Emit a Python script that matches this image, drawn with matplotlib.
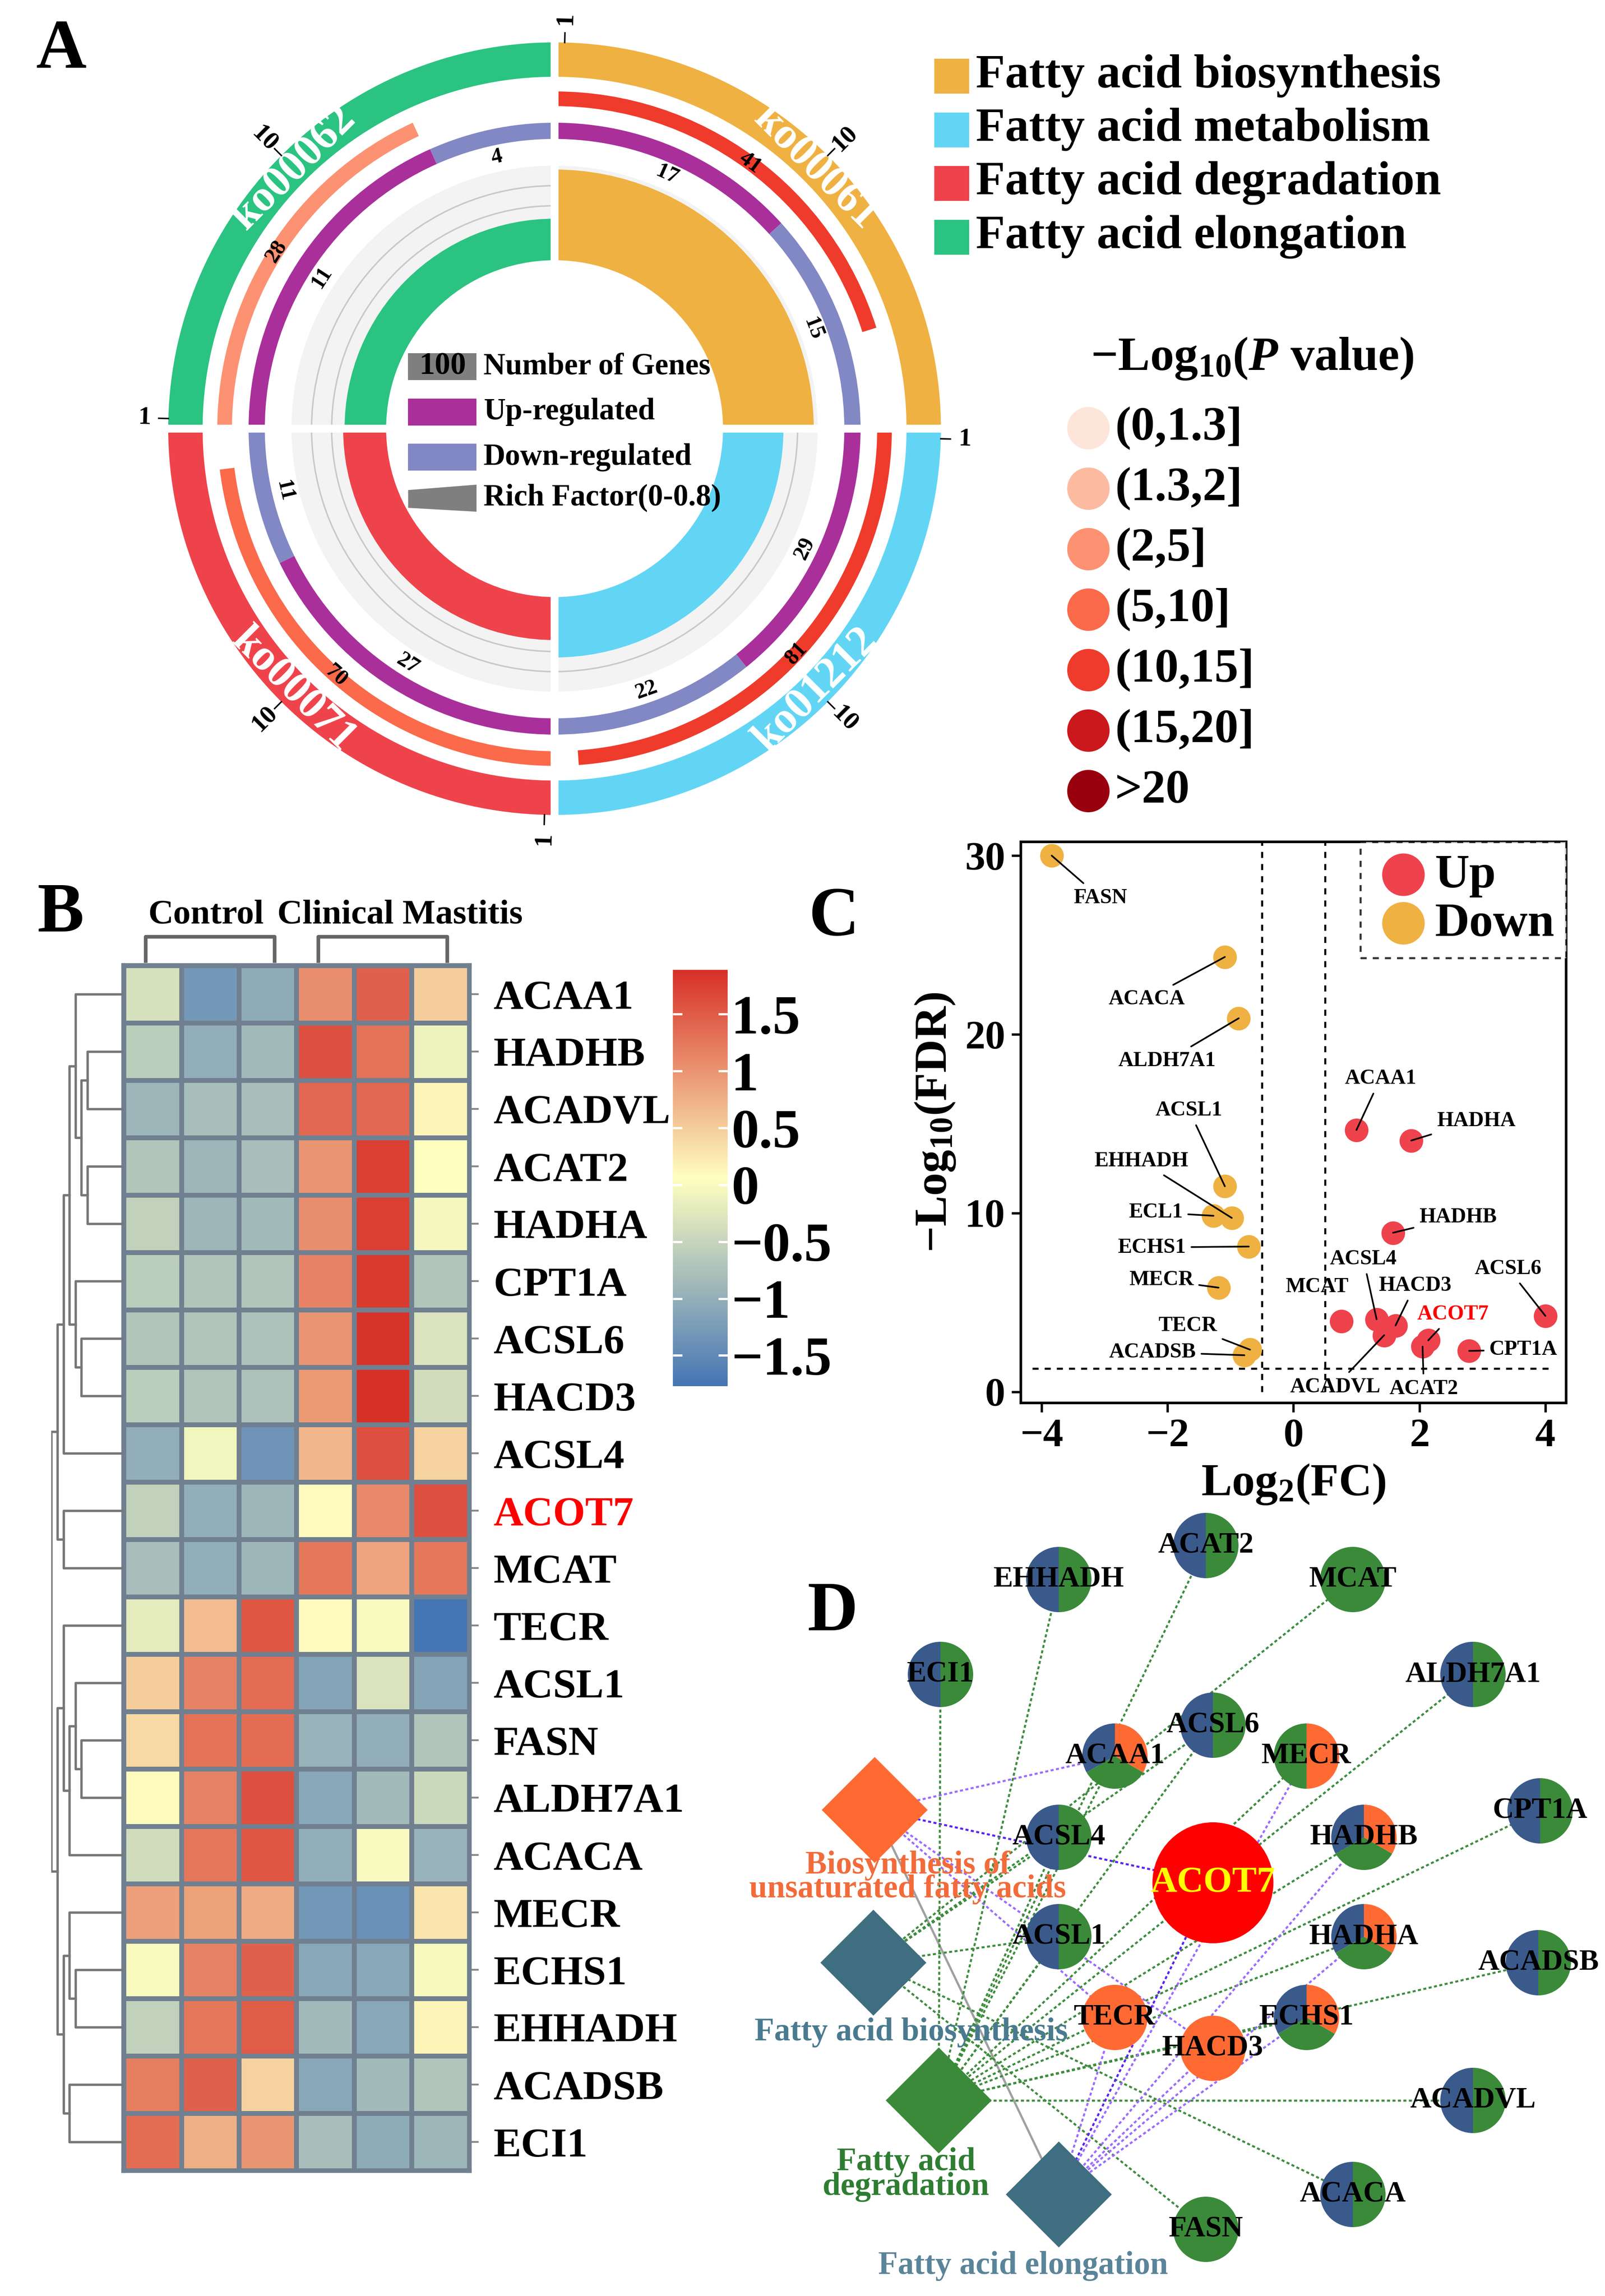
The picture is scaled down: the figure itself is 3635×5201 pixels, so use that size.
import numpy as np
import matplotlib
matplotlib.use("Agg")
import matplotlib.pyplot as plt
from matplotlib.patches import Wedge, Rectangle, Polygon, Circle, Arc
from matplotlib.colors import LinearSegmentedColormap, Normalize
from matplotlib.cm import ScalarMappable

plt.rcParams["font.family"] = ["Liberation Serif", "DejaVu Serif"]
plt.rcParams["font.weight"] = "bold"
plt.rcParams["mathtext.fontset"] = "custom"
plt.rcParams["mathtext.rm"] = "Liberation Serif:bold"
plt.rcParams["mathtext.bf"] = "Liberation Serif:bold"
plt.rcParams["mathtext.it"] = "Liberation Serif:italic:bold"
plt.rcParams["axes.unicode_minus"] = True

W, H = 3636, 5201

# ---------------- panel A data
ko_ids = ["ko00061", "ko00062", "ko00071", "ko01212"]
ko_colors = ["#EFB142", "#2BC381", "#EF434C", "#62D5F5"]
ko_start = [90, 180, 270, 0]          # each sector runs clockwise from here
bg_genes = [41, 28, 70, 81]
up_genes = [17, 11, 27, 29]
down_genes = [15, 4, 11, 22]
neglog_p = [12.0, 3.5, 7.5, 12.5]

legend_names = ["Fatty acid biosynthesis", "Fatty acid metabolism",
                "Fatty acid degradation", "Fatty acid elongation"]
legend_colors = ["#EFB142", "#62D5F5", "#EF434C", "#2BC381"]

p_edges = [1.3, 2, 5, 10, 15, 20]
p_labels = ["(0,1.3]", "(1.3,2]", "(2,5]", "(5,10]", "(10,15]", "(15,20]", ">20"]
p_colors = ["#FEE5D9", "#FCBBA1", "#FC9272", "#FB6A4A", "#EF3B2C", "#CB181D", "#99000D"]

UP_COL = "#A9309A"
DOWN_COL = "#8288C4"

# ---------------- panel B data
genes_b = ["ACAA1", "HADHB", "ACADVL", "ACAT2", "HADHA", "CPT1A", "ACSL6", "HACD3",
           "ACSL4", "ACOT7", "MCAT", "TECR", "ACSL1", "FASN", "ALDH7A1", "ACACA",
           "MECR", "ECHS1", "EHHADH", "ACADSB", "ECI1"]
groups_b = ["Control", "Clinical Mastitis"]
zscore = np.array([
    [-0.35, -1.30, -1.05, 1.05, 1.45, 0.50],
    [-0.60, -1.00, -0.85, 1.60, 1.30, -0.10],
    [-0.90, -0.80, -0.80, 1.40, 1.40, 0.15],
    [-0.70, -0.90, -0.80, 1.00, 1.75, 0.05],
    [-0.55, -0.90, -0.85, 1.05, 1.75, -0.05],
    [-0.60, -0.70, -0.70, 1.15, 1.80, -0.70],
    [-0.70, -0.70, -0.75, 1.00, 1.85, -0.30],
    [-0.60, -0.70, -0.75, 0.95, 1.89, -0.40],
    [-1.00, -0.08, -1.35, 0.70, 1.60, 0.45],
    [-0.55, -1.00, -0.90, 0.10, 1.10, 1.60],
    [-0.80, -1.00, -0.90, 1.25, 0.85, 1.25],
    [-0.20, 0.65, 1.55, 0.10, 0.00, -1.77],
    [0.50, 1.15, 1.35, -1.15, -0.30, -1.15],
    [0.40, 1.30, 1.35, -0.95, -1.00, -0.70],
    [0.10, 1.15, 1.60, -1.10, -0.85, -0.45],
    [-0.40, 1.25, 1.55, -1.00, 0.00, -0.95],
    [0.90, 0.88, 0.80, -1.30, -1.40, 0.30],
    [0.00, 1.15, 1.45, -1.10, -1.10, -0.02],
    [-0.55, 1.25, 1.50, -0.85, -1.10, 0.15],
    [1.20, 1.45, 0.45, -1.10, -0.85, -0.70],
    [1.35, 0.75, 1.00, -0.80, -1.05, -0.90],
])
z_min, z_max = -1.77, 1.89
cbar_ticks = [1.5, 1, 0.5, 0, -0.5, -1, -1.5]
cbar_ticklabels = ["1.5", "1", "0.5", "0", "\u22120.5", "\u22121", "\u22121.5"]
# row dendrogram: (child a, child b, height); new nodes numbered from 21
row_merges = [(1, 2, 82), (3, 4, 82), (21, 22, 96), (0, 23, 109), (6, 7, 96),
              (5, 25, 109), (24, 26, 123), (27, 8, 136), (9, 10, 136), (28, 29, 150),
              (13, 14, 96), (12, 31, 109), (15, 32, 123), (11, 33, 136), (17, 18, 109),
              (16, 35, 123), (19, 20, 123), (36, 37, 136), (34, 38, 150), (30, 39, 164)]

# ---------------- panel C data
genes_c = ["FASN", "ACACA", "ALDH7A1", "ACSL1", "EHHADH", "ECL1", "ECHS1", "MECR",
           "TECR", "ACADSB", "ACAA1", "HADHA", "HADHB", "MCAT", "ACSL4", "HACD3",
           "ACADVL", "ACOT7", "ACAT2", "CPT1A", "ACSL6"]
log2fc = [-3.84, -1.09, -0.87, -1.09, -0.98, -1.27, -0.71, -1.19, -0.69, -0.78,
          1.00, 1.87, 1.58, 0.76, 1.32, 1.62, 1.44, 2.14, 2.05, 2.79, 4.00]
neglog_fdr = [30.0, 24.33, 20.9, 11.5, 9.73, 9.85, 8.13, 5.83, 2.36, 2.05,
              14.65, 14.06, 8.9, 3.95, 4.06, 3.71, 3.17, 2.88, 2.53, 2.29, 4.25]
lab_x = [-3.07, -2.33, -2.01, -1.66, -2.42, -2.19, -2.25, -2.10, -1.68, -2.24,
         1.38, 2.90, 2.61, 0.37, 1.11, 1.93, 0.66, 2.53, 2.07, 3.65, 3.41]
lab_y = [27.64, 21.97, 18.52, 15.76, 12.92, 10.04, 8.08, 6.26, 3.71, 2.22,
         17.53, 15.17, 9.78, 5.88, 7.44, 5.95, 0.28, 4.35, 0.17, 2.36, 6.90]
no_line = ["MCAT"]

# ---------------- panel D data
gene_nodes = ["EHHADH", "ACAT2", "MCAT", "ECI1", "ALDH7A1", "ACSL6", "ACAA1", "MECR",
              "ACSL4", "HADHB", "CPT1A", "ACOT7", "ACSL1", "HADHA", "ACADSB", "TECR",
              "ECHS1", "HACD3", "ACADVL", "ACACA", "FASN"]
node_x = [2398, 2731, 3064, 2130, 3336, 2747, 2525, 2959, 2398, 3089, 3488, 2747,
          2398, 3089, 3484, 2525, 2959, 2747, 3336, 3064, 2731]
node_y = [1623, 1700, 1623, 1408, 1408, 1293, 1223, 1223, 1039, 1039, 1099, 936,
          814, 814, 755, 631, 631, 561, 443, 230, 151]
node_parts = ["bg", "bg", "g", "bg", "bg", "bg", "bgo", "go", "bg", "bgo", "bg", "r",
              "bg", "bgo", "bg", "o", "bgo", "o", "bg", "bg", "g"]
part_colors = {"b": "#3A5A8C", "g": "#3A8A3A", "o": "#FF6A33", "r": "#FF0000"}

pathways = ["Biosynthesis of\nunsaturated fatty acids", "Fatty acid biosynthesis",
            "Fatty acid\ndegradation", "Fatty acid elongation"]
path_x = [1981, 1978, 2126, 2398]
path_y = [1101, 755, 443, 230]
path_colors = ["#FF6A33", "#3F6E80", "#3A8A3A", "#3F6E80"]
path_text_colors = ["#F26B3A", "#4A7A8F", "#2E7D32", "#5A8499"]
path_lab_x = [2056, 2064, 2052, 2317]
path_lab_y = [948, 597, 275, 68]
path_genes = [
    ["ACAA1", "ACOT7", "TECR", "HACD3"],
    ["ACSL1", "ACSL4", "ACSL6", "MCAT", "ACACA", "FASN"],
    ["ECI1", "EHHADH", "ACAT2", "ACSL6", "ACAA1", "ACSL4", "ACSL1", "MECR", "HADHB",
     "CPT1A", "ALDH7A1", "HADHA", "ECHS1", "ACADSB", "ACADVL"],
    ["ACOT7", "TECR", "HACD3", "ECHS1", "HADHA", "HADHB", "MECR"],
]
path_edge_colors = ["#9B6BFF", "#3C8C3C", "#3C8C3C", "#9B6BFF"]


def upright(r):
    r = r % 360
    if 90 < r <= 270:
        r -= 180
    elif r > 270:
        r -= 360
    return r


def pol(r, a):
    return r * np.cos(np.radians(a)), r * np.sin(np.radians(a))


fig = plt.figure(figsize=(W / 300, H / 300), dpi=300)

# overlay in pixel coordinates for legends and panel letters
ov = fig.add_axes([0, 0, 1, 1])
ov.set_xlim(0, W)
ov.set_ylim(H, 0)
ov.axis("off")

for lab, (x, y) in zip("ABCD", [(139, 116), (137, 2072), (1888, 2080), (1885, 3655)]):
    ov.text(x, y, lab, fontsize=38, ha="center", va="center")

# legend of pathways
for i, (nm, c) in enumerate(zip(legend_names, legend_colors)):
    y = 172 + 121.5 * i
    ov.add_patch(Rectangle((2116, y - 39), 79, 79, fc=c, ec="none"))
    ov.text(2210, y, nm, fontsize=26, va="center", ha="left")

# p-value legend
ov.text(2470, 812, r"$\mathrm{-Log_{10}(}\mathit{P}\mathrm{\ value)}$", fontsize=26,
        va="center", ha="left")
for i, (lb, c) in enumerate(zip(p_labels, p_colors)):
    y = 970 + 137 * i
    ov.add_patch(Circle((2465, y), 48, fc=c, ec="none"))
    ov.text(2525, y, lb, fontsize=26, va="center", ha="left")

# ---------------- panel A
R_PX = 875
half = 960
axA = fig.add_axes([(1256 - half) / W, 1 - (971 + half) / H, 2 * half / W, 2 * half / H])
lim = half / R_PX
axA.set_xlim(-lim, lim)
axA.set_ylim(-lim, lim)
axA.axis("off")

r0, rf_scale = 0.265, 0.52
for i in range(4):
    s = ko_start[i]
    # outer category ring
    axA.add_patch(Wedge((0, 0), 1.0, s - 90, s, width=0.089, fc=ko_colors[i], ec="none", zorder=2))
    # background genes on log scale, coloured by p value
    d = 90 * np.log10(bg_genes[i]) / 2
    pc = p_colors[int(np.searchsorted(p_edges, neglog_p[i]))]
    axA.add_patch(Wedge((0, 0), 0.873, s - d, s, width=0.038, fc=pc, ec="none", zorder=2))
    # up / down split
    du = 90 * up_genes[i] / (up_genes[i] + down_genes[i])
    axA.add_patch(Wedge((0, 0), 0.792, s - du, s, width=0.042, fc=UP_COL, ec="none", zorder=2))
    axA.add_patch(Wedge((0, 0), 0.792, s - 90, s - du, width=0.042, fc=DOWN_COL, ec="none", zorder=2))
    # rich factor
    r_max = r0 + rf_scale * 0.8
    axA.add_patch(Wedge((0, 0), r_max, s - 90, s, width=r_max - r0, fc="#F3F3F3", ec="none", zorder=1))
    for g in [0.6, 0.7]:
        rg = r0 + rf_scale * g
        axA.add_patch(Arc((0, 0), 2 * rg, 2 * rg, theta1=s - 90, theta2=s, color="#C8C8C8", lw=0.8, zorder=1.5))
    rf = (up_genes[i] + down_genes[i]) / bg_genes[i]
    r_rf = r0 + rf_scale * rf
    axA.add_patch(Wedge((0, 0), r_rf, s - 90, s, width=r_rf - r0, fc=ko_colors[i], ec="none", zorder=2))

    # labels
    a = s - 45
    x, y = pol(0.955, a)
    axA.text(x, y, ko_ids[i], color="white", fontsize=24, rotation=upright(a - 90),
             ha="center", va="center", rotation_mode="anchor", zorder=6)
    x, y = pol(0.854, s - d / 2)
    axA.text(x, y, str(bg_genes[i]), fontsize=12, rotation=upright(s - d / 2 - 90),
             ha="center", va="center", rotation_mode="anchor", zorder=6)
    x, y = pol(0.718, s - du / 2)
    axA.text(x, y, str(up_genes[i]), fontsize=12, rotation=upright(s - du / 2 - 90),
             ha="center", va="center", rotation_mode="anchor", zorder=6)
    am = s - du - (90 - du) / 2
    x, y = pol(0.718, am)
    axA.text(x, y, str(down_genes[i]), fontsize=12, rotation=upright(am - 90),
             ha="center", va="center", rotation_mode="anchor", zorder=6)
    # axis ticks 1 and 10
    for val, ang in [("1", s - 1.5), ("10", s - 45)]:
        p1, p2 = pol(1.0, ang), pol(1.025, ang)
        axA.plot([p1[0], p2[0]], [p1[1], p2[1]], color="black", lw=0.8, zorder=6)
        tx, ty = pol(1.062, ang)
        axA.text(tx, ty, val, fontsize=14, rotation=upright(ang), ha="center", va="center",
                 rotation_mode="anchor", zorder=6)

axA.add_patch(Circle((0, 0), 0.436, fc="white", ec="none", zorder=3))
axA.plot([-1.02, 1.02], [0, 0], color="white", lw=4.3, zorder=4, solid_capstyle="butt")
axA.plot([0, 0], [-1.02, 1.02], color="white", lw=4.3, zorder=4, solid_capstyle="butt")

# centre legend
leg_y = [0.161, 0.043, -0.074, -0.178]
axA.add_patch(Rectangle((-0.379, leg_y[0] - 0.035), 0.177, 0.07, fc="#7F7F7F", ec="none", zorder=7))
axA.text(-0.29, leg_y[0], "100", fontsize=17, ha="center", va="center", zorder=8)
axA.add_patch(Rectangle((-0.379, leg_y[1] - 0.035), 0.177, 0.07, fc=UP_COL, ec="none", zorder=7))
axA.add_patch(Rectangle((-0.379, leg_y[2] - 0.035), 0.177, 0.07, fc=DOWN_COL, ec="none", zorder=7))
axA.add_patch(Polygon([(-0.379, -0.159), (-0.202, -0.145), (-0.202, -0.215), (-0.379, -0.205)],
                      closed=True, fc="#7F7F7F", ec="none", zorder=7))
for t, y in zip(["Number of Genes", "Up-regulated", "Down-regulated", "Rich Factor(0-0.8)"], leg_y):
    axA.text(-0.184, y, t, fontsize=16.5, ha="left", va="center", zorder=8)

# ---------------- panel B
cmap = LinearSegmentedColormap.from_list("hm", ["#4575B4", "#FFFFBF", "#D73027"])
norm = Normalize(z_min, z_max)
axB = fig.add_axes([280 / W, 1 - 4917 / H, 783 / W, 2730 / H])
axB.pcolormesh(np.arange(7) - 0.5, np.arange(22) - 0.5, zscore, cmap=cmap, norm=norm,
               edgecolors="#708090", linewidth=2.2)
axB.set_xlim(-0.5, 5.5)
axB.set_ylim(20.5, -0.5)
for sp in axB.spines.values():
    sp.set_color("#708090")
    sp.set_linewidth(2.5)
axB.set_xticks([])
axB.yaxis.tick_right()
axB.set_yticks(range(len(genes_b)))
axB.set_yticklabels(genes_b, fontsize=22.5)
axB.tick_params(axis="y", length=5, width=1, color="#888888", pad=8)
axB.get_yticklabels()[genes_b.index("ACOT7")].set_color("red")
for (x0, x1), xt, g in zip([(-0.12, 2.12), (2.88, 5.12)], [0.93, 4.3], groups_b):
    axB.plot([x0, x0, x1, x1], [-0.58, -1.0, -1.0, -0.58], color="#666666", lw=2,
             clip_on=False)
    axB.text(xt, -1.38, g, fontsize=19, ha="center", va="center")

# dendrogram
axDen = fig.add_axes([116 / W, 1 - 4917 / H, 164 / W, 2730 / H])
axDen.set_xlim(164, 0)
axDen.set_ylim(20.5, -0.5)
axDen.axis("off")
pos = {i: (float(i), 0.0) for i in range(len(genes_b))}
for k, (a, b, h) in enumerate(row_merges):
    ya, ha_ = pos[a]
    yb, hb = pos[b]
    axDen.plot([ha_, h, h, hb], [ya, ya, yb, yb], color="#777777", lw=1.3)
    pos[len(genes_b) + k] = ((ya + yb) / 2, h)

# colour bar
cax = fig.add_axes([1524 / W, 1 - 3140 / H, 124 / W, 943 / H])
cb = fig.colorbar(ScalarMappable(norm=norm, cmap=cmap), cax=cax)
cb.outline.set_visible(False)
cb.set_ticks(cbar_ticks)
cb.set_ticklabels(cbar_ticklabels)
cax.tick_params(labelsize=30, length=5, width=1.2, color="white", direction="in",
                left=True, right=True, pad=2)

# ---------------- panel C
axC = fig.add_axes([2312 / W, 1 - 3178 / H, 1235 / W, 1271 / H])
up_mask = np.array(log2fc) > 0
lx = np.array(log2fc)
ly = np.array(neglog_fdr)
axC.scatter(lx[up_mask], ly[up_mask], s=165, color="#EE424D", label="Up", zorder=3, lw=0)
axC.scatter(lx[~up_mask], ly[~up_mask], s=165, color="#EFB142", label="Down", zorder=3, lw=0)
axC.vlines([-0.5, 0.5], 0, 30.77, colors="black", linestyles=(0, (3, 3)), lw=1.1)
axC.hlines(-np.log10(0.05), -4.15, 4.1, colors="black", linestyles=(0, (3, 3)), lw=1.1)
for g, x, y, tx, ty in zip(genes_c, log2fc, neglog_fdr, lab_x, lab_y):
    col = "red" if g == "ACOT7" else "black"
    if g in no_line:
        axC.text(tx, ty, g, fontsize=11.5, ha="center", va="center", color=col)
    else:
        axC.annotate(g, xy=(x, y), xytext=(tx, ty), fontsize=11.5, ha="center", va="center",
                     color=col, arrowprops=dict(arrowstyle="-", color="black", lw=0.9,
                                                shrinkA=1, shrinkB=0))
axC.set_xlim(-4.33, 4.33)
axC.set_ylim(-0.62, 30.77)
axC.set_xticks([-4, -2, 0, 2, 4])
axC.set_yticks([0, 10, 20, 30])
axC.tick_params(labelsize=22, width=1.3, length=5)
for sp in axC.spines.values():
    sp.set_linewidth(1.4)
axC.set_xlabel(r"$\mathrm{Log_{2}(FC)}$", fontsize=25, labelpad=4)
axC.set_ylabel(r"$\mathrm{-Log_{10}(FDR)}$", fontsize=25, labelpad=4)
leg = axC.legend(loc="upper right", fontsize=26, markerscale=1.8, borderaxespad=0,
                 handletextpad=0.0, borderpad=0.25, labelspacing=0.1, handlelength=1.3,
                 fancybox=False)
leg.get_frame().set_linestyle((0, (3, 3)))
leg.get_frame().set_edgecolor("black")
leg.get_frame().set_linewidth(1.1)

# ---------------- panel D
axD = fig.add_axes([1700 / W, 0, 1936 / W, 1851 / H])
axD.set_xlim(1700, 3636)
axD.set_ylim(0, 1851)
axD.axis("off")
gx = dict(zip(gene_nodes, node_x))
gy = dict(zip(gene_nodes, node_y))
axD.plot([path_x[0], path_x[3]], [path_y[0], path_y[3]], color="#A0A0A0", lw=1.2, zorder=1)
for pi, genes in enumerate(path_genes):
    for g in genes:
        c = path_edge_colors[pi]
        if g == "ACOT7":
            c = "#5A22F0"
        axD.plot([path_x[pi], gx[g]], [path_y[pi], gy[g]], color=c, lw=1.1,
                 ls=(0, (1.5, 1.2)), zorder=1)
D_HALF = 120
for pi in range(len(pathways)):
    x, y = path_x[pi], path_y[pi]
    axD.add_patch(Polygon([(x - D_HALF, y), (x, y + D_HALF), (x + D_HALF, y), (x, y - D_HALF)],
                          closed=True, fc=path_colors[pi], ec="none", zorder=2))
    axD.text(path_lab_x[pi], path_lab_y[pi], pathways[pi], color=path_text_colors[pi],
             fontsize=17.5, ha="center", va="center", linespacing=0.75, zorder=5)
for g, x, y, parts in zip(gene_nodes, node_x, node_y, node_parts):
    if parts == "r":
        axD.add_patch(Circle((x, y), 137, fc=part_colors["r"], ec="none", zorder=3))
        axD.text(x, y, g, color="yellow", fontsize=20, ha="center", va="center", zorder=6)
        continue
    n = len(parts)
    for k, p in enumerate(parts):
        axD.add_patch(Wedge((x, y), 74, 90 + 360 * k / n, 90 + 360 * (k + 1) / n,
                            fc=part_colors[p], ec="none", zorder=3))
    axD.text(x, y, g, color="black", fontsize=16, ha="center", va="center", zorder=6)

fig.savefig("out.png", dpi=300)
